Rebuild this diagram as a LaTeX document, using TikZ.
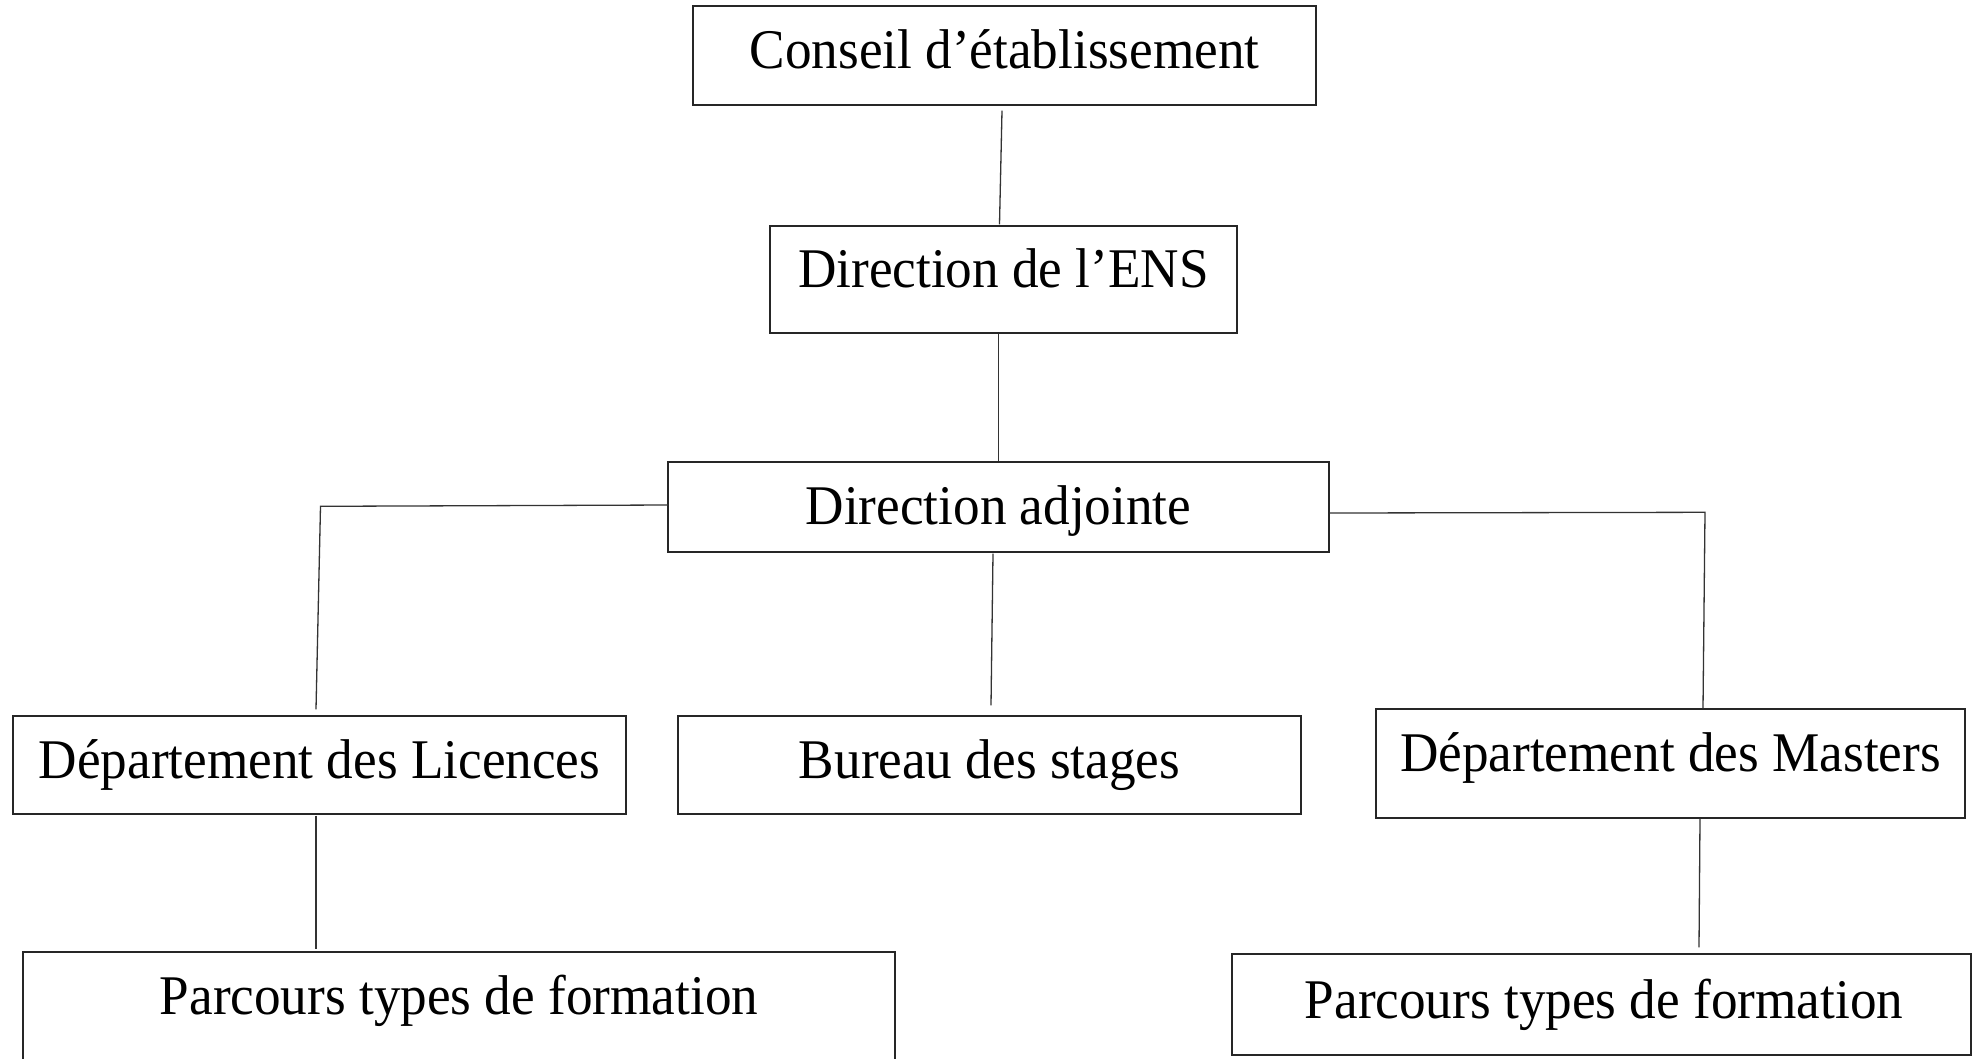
\documentclass[tikz,border=0pt]{standalone}
\usepackage{fontspec}
\setmainfont[FakeStretch=0.95]{Liberation Serif}
\usetikzlibrary{calc}
\tikzset{
  box/.style={draw=black!85, line width=1.4pt, rectangle, inner sep=0pt},
  lbl/.style={anchor=base, inner sep=0pt, font=\fontsize{56}{67}\selectfont},
  conn/.style={draw=black!80, line width=1.3pt}
}
\begin{document}
\begin{tikzpicture}[x=1pt,y=-1pt]
\clip (0,0) rectangle (1979,1058);
\fill[white] (0,0) rectangle (1979,1058);
% boxes
\node[box, minimum width=623pt, minimum height=99pt]  (conseil) at (1004.5,55.5) {};
\node[box, minimum width=467pt, minimum height=107pt] (ens)     at (1003.5,279.5) {};
\node[box, minimum width=661pt, minimum height=90pt]  (adj)     at (998.5,507) {};
\node[box, minimum width=613pt, minimum height=98pt]  (lic)     at (319.5,765) {};
\node[box, minimum width=623pt, minimum height=98pt]  (bur)     at (989.5,765) {};
\node[box, minimum width=589pt, minimum height=109pt] (mas)     at (1670.5,763.5) {};
\node[box, minimum width=872pt, minimum height=118pt] (parL)    at (459,1011) {};
\node[box, minimum width=739pt, minimum height=101pt] (parR)    at (1601.5,1004.5) {};
% labels
\node[lbl] (conseilT) at (1004.5,68)  {Conseil d’établissement};
\node[lbl] (ensT)     at (1003.5,287) {Direction de l’ENS};
\node[lbl] (adjT)     at (998.5,524)  {Direction adjointe};
\node[lbl] (licT)     at (319.5,778)  {Département des Licences};
\node[lbl] (burT)     at (989.5,778)  {Bureau des stages};
\node[lbl] (masT)     at (1670.5,771) {Département des Masters};
\node[lbl] (parLT)    at (459,1014)   {Parcours types de formation};
\node[lbl] (parRT)    at (1604,1018)  {Parcours types de formation};
% connectors
\draw[conn] ($(conseil.south)+(-2.5,5)$) -- ($(ens.north)+(-4,-1)$);
\draw[conn] (adj.north |- ens.south) -- (adj.north);
\draw[conn] ($(adj.west)+(1,-2)$) -- ($(lic.north)+(1,-209)$) -- ($(lic.north)+(-3.5,-6)$);
\draw[conn] ($(adj.south)+(-5.5,1)$) -- ($(bur.north)+(1.5,-10)$);
\draw[conn] ($(adj.east)+(0,6)$) -- ($(mas.north)+(34.5,-196)$) -- ($(mas.north)+(32.5,0)$);
\draw[conn] ($(lic.south)+(-3.5,1)$) -- ($(parL.north)+(-143,-2)$);
\draw[conn] ($(mas.south)+(29.5,0)$) -- ($(parR.north)+(97.5,-6)$);
\end{tikzpicture}
\end{document}
